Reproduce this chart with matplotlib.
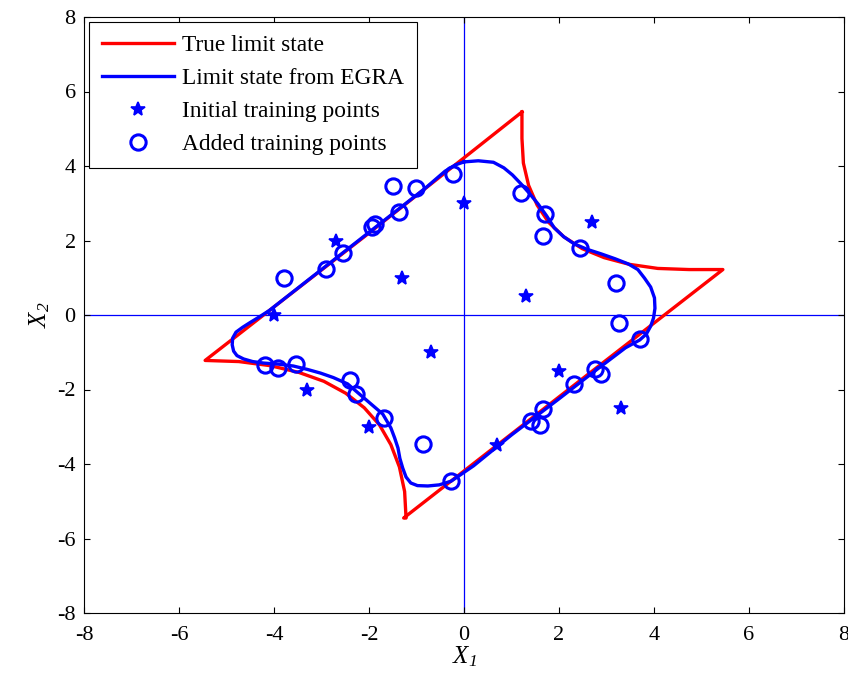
import numpy as np
import matplotlib
matplotlib.use("Agg")
import matplotlib.pyplot as plt

plt.rcParams['font.family'] = ['Liberation Serif', 'DejaVu Serif']
plt.rcParams['mathtext.fontset'] = 'custom'
plt.rcParams['mathtext.it'] = 'Liberation Serif:italic'
plt.rcParams['mathtext.rm'] = 'Liberation Serif:italic'
plt.rcParams['axes.unicode_minus'] = False

# true limit state (closed polyline: four-branch series system)
true_x1 = [1.22, 1.22, 1.25, 1.36, 1.54, 1.78, 2.10, 2.49, 2.95, 3.48, 4.08, 4.74, 5.45,
           2.10, -1.27,
           -1.22, -1.25, -1.36, -1.54, -1.78, -2.10, -2.49, -2.95, -3.48, -4.08, -4.74, -5.45,
           -2.10, 1.22]
true_x2 = [5.45, 4.74, 4.08, 3.48, 2.95, 2.49, 2.10, 1.78, 1.54, 1.36, 1.25, 1.22, 1.22,
           -2.10, -5.45,
           -5.45, -4.74, -4.08, -3.48, -2.95, -2.49, -2.10, -1.78, -1.54, -1.36, -1.25, -1.22,
           2.10, 5.45]

# limit state from EGRA (kriging surrogate)
egra_x1 = [0.0, 0.3, 0.62, 0.84, 1.02, 1.20, 1.38, 1.56, 1.74, 1.90, 2.10, 2.32, 2.60, 2.89,
           3.18, 3.46, 3.66, 3.80, 3.93, 4.01, 4.02, 3.99, 3.93, 3.84, 3.70, 3.40, 2.80, 2.0,
           1.0, 0.2, -0.27, -0.52, -0.76, -0.98, -1.12, -1.22, -1.29, -1.35, -1.39, -1.46, -1.54,
           -1.71, -2.03, -2.45, -2.75, -3.02, -3.30, -3.59, -3.90, -4.22, -4.45, -4.64, -4.78,
           -4.85, -4.88, -4.87, -4.80, -4.66, -4.50, -4.32, -4.10, -3.50, -2.50, -1.50, -0.80,
           -0.40, -0.18, 0.0]
egra_x2 = [4.11, 4.14, 4.10, 3.95, 3.76, 3.52, 3.26, 2.98, 2.66, 2.34, 2.10, 1.91, 1.76, 1.64,
           1.51, 1.37, 1.22, 0.99, 0.75, 0.46, 0.18, -0.08, -0.30, -0.51, -0.67, -0.88, -1.46, -2.25,
           -3.22, -4.05, -4.46, -4.56, -4.59, -4.58, -4.51, -4.35, -4.11, -3.85, -3.57, -3.30, -3.03,
           -2.66, -2.31, -1.85, -1.68, -1.56, -1.46, -1.37, -1.32, -1.29, -1.25, -1.18, -1.09,
           -0.97, -0.80, -0.62, -0.46, -0.33, -0.20, -0.06, 0.12, 0.72, 1.72, 2.72, 3.42,
           3.86, 4.03, 4.11]

# initial training points
init_x1 = [-2.7, 0.0, -1.3, -4.0, 2.7, 1.3, -0.7, -3.3, -2.0, 2.0, 0.7, 3.3]
init_x2 = [2.0, 3.0, 1.0, 0.0, 2.5, 0.5, -1.0, -2.0, -3.0, -1.5, -3.5, -2.5]

# added training points
add_x1 = [-1.50, -1.01, -0.24, -1.36, -1.93, -1.88, -2.55, -2.90, -3.78,
          1.20, 1.71, 1.66, 2.45, 3.19, 3.26, 3.70,
          2.75, 2.89, 2.31, 1.66, 1.41, 1.60, -0.27,
          -4.18, -3.92, -3.54, -2.40, -2.28, -1.68, -0.86]
add_x2 = [3.46, 3.40, 3.79, 2.77, 2.36, 2.44, 1.67, 1.23, 1.00,
          3.28, 2.72, 2.12, 1.79, 0.85, -0.21, -0.65,
          -1.44, -1.59, -1.86, -2.53, -2.85, -2.96, -4.46,
          -1.35, -1.41, -1.32, -1.75, -2.11, -2.76, -3.47]

fig = plt.figure(figsize=(8.48, 6.85), dpi=100)
ax = fig.add_axes([84 / 848, 1 - 613 / 685, 760 / 848, 596 / 685])

ax.axhline(0, color='blue', lw=0.9, zorder=1)
ax.axvline(0, color='blue', lw=0.9, zorder=1)

ax.plot(true_x1, true_x2, color='red', lw=2.4, label='True limit state', zorder=2)
ax.plot(egra_x1, egra_x2, color='blue', lw=2.4, label='Limit state from EGRA', zorder=3)
ax.plot(init_x1, init_x2, ls='none', marker='*', ms=10, color='blue', mew=1.2,
        label='Initial training points', zorder=4)
ax.plot(add_x1, add_x2, ls='none', marker='o', ms=11, mfc='none', mec='blue', mew=2.2,
        label='Added training points', zorder=4)

ax.set_xlim(-8, 8)
ax.set_ylim(-8, 8)
ax.set_xticks(np.arange(-8, 9, 2))
ax.set_yticks(np.arange(-8, 9, 2))
ax.tick_params(direction='in', top=True, right=True, labelsize=16, length=4, pad=6)
ax.tick_params(axis='x', pad=9)
for s in ax.spines.values():
    s.set_linewidth(0.8)

ax.set_xlabel('$X_1$', fontsize=18, labelpad=0)
ax.set_ylabel('$X_2$', fontsize=18, labelpad=4)

leg = ax.legend(loc='upper left', fontsize=16.8, fancybox=False, framealpha=1,
                edgecolor='black', handlelength=3.1, borderaxespad=0.2,
                labelspacing=0.5, handletextpad=0.35, borderpad=0.55)
leg.get_frame().set_linewidth(0.8)

fig.savefig('out.png', dpi=100)
